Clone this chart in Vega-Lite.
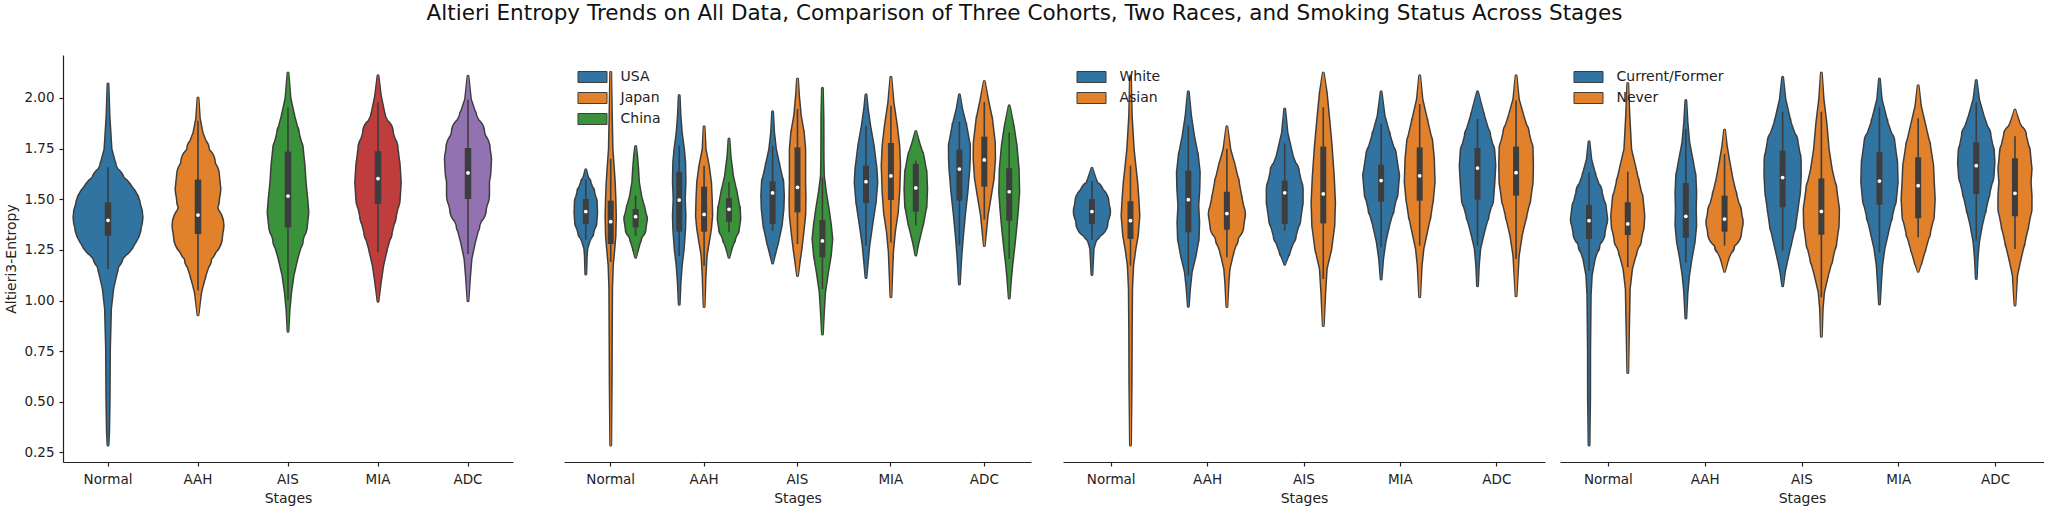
{
"$schema": "https://vega.github.io/schema/vega-lite/v6.json",
"padding": {"left": 4, "top": 2, "right": 0, "bottom": 0},
"title": {"text": "Altieri Entropy Trends on All Data, Comparison of Three Cohorts, Two Races, and Smoking Status Across Stages", "font": "DejaVu Sans", "fontSize": 21.5, "fontWeight": "normal", "color": "#111", "anchor": "middle", "offset": 31},
"config": {
  "view": {"stroke": null},
  "font": "DejaVu Sans",
  "axis": {"labelFont": "DejaVu Sans", "titleFont": "DejaVu Sans", "titleFontWeight": "normal", "labelColor": "#222", "titleColor": "#222", "domainColor": "#222", "tickColor": "#222", "grid": false, "tickSize": 4, "domainWidth": 1.2, "tickWidth": 1.2},
  "axisX": {"labelAngle": 0, "labelFontSize": 13.5, "titleFontSize": 14, "labelPadding": 6, "titlePadding": 6},
  "legend": {"orient": "none", "legendX": 21.5, "legendY": 15, "title": null, "symbolType": "M-2.64,-1H2.64V1H-2.64Z", "symbolSize": 121, "symbolStrokeColor": "#3d3d3d", "symbolStrokeWidth": 1, "symbolOpacity": 1, "labelFont": "DejaVu Sans", "labelFontSize": 14, "labelColor": "#222", "labelOffset": 21, "rowPadding": 5, "padding": 0}
},
"datasets": {
"vio": [
{"p":"A","s":"Normal","g":"All","v":2.069,"w":0},{"p":"A","s":"Normal","g":"All","v":1.913,"w":0.03},{"p":"A","s":"Normal","g":"All","v":1.748,"w":0.09},{"p":"A","s":"Normal","g":"All","v":1.666,"w":0.22},{"p":"A","s":"Normal","g":"All","v":1.584,"w":0.46},{"p":"A","s":"Normal","g":"All","v":1.501,"w":0.76},{"p":"A","s":"Normal","g":"All","v":1.452,"w":0.93},{"p":"A","s":"Normal","g":"All","v":1.411,"w":0.99},{"p":"A","s":"Normal","g":"All","v":1.378,"w":0.95},{"p":"A","s":"Normal","g":"All","v":1.337,"w":0.83},{"p":"A","s":"Normal","g":"All","v":1.287,"w":0.62},{"p":"A","s":"Normal","g":"All","v":1.221,"w":0.42},{"p":"A","s":"Normal","g":"All","v":1.156,"w":0.27},{"p":"A","s":"Normal","g":"All","v":1.057,"w":0.14},{"p":"A","s":"Normal","g":"All","v":0.958,"w":0.075},{"p":"A","s":"Normal","g":"All","v":0.76,"w":0.045},{"p":"A","s":"Normal","g":"All","v":0.514,"w":0.035},{"p":"A","s":"Normal","g":"All","v":0.349,"w":0.02},{"p":"A","s":"Normal","g":"All","v":0.286,"w":0},
{"p":"A","s":"AAH","g":"All","v":2.0,"w":0},{"p":"A","s":"AAH","g":"All","v":1.9,"w":0.04},{"p":"A","s":"AAH","g":"All","v":1.83,"w":0.12},{"p":"A","s":"AAH","g":"All","v":1.75,"w":0.3},{"p":"A","s":"AAH","g":"All","v":1.68,"w":0.48},{"p":"A","s":"AAH","g":"All","v":1.616,"w":0.6},{"p":"A","s":"AAH","g":"All","v":1.55,"w":0.64},{"p":"A","s":"AAH","g":"All","v":1.5,"w":0.6},{"p":"A","s":"AAH","g":"All","v":1.46,"w":0.54},{"p":"A","s":"AAH","g":"All","v":1.42,"w":0.6},{"p":"A","s":"AAH","g":"All","v":1.37,"w":0.73},{"p":"A","s":"AAH","g":"All","v":1.32,"w":0.69},{"p":"A","s":"AAH","g":"All","v":1.27,"w":0.53},{"p":"A","s":"AAH","g":"All","v":1.205,"w":0.37},{"p":"A","s":"AAH","g":"All","v":1.123,"w":0.21},{"p":"A","s":"AAH","g":"All","v":1.04,"w":0.08},{"p":"A","s":"AAH","g":"All","v":0.93,"w":0},
{"p":"A","s":"AIS","g":"All","v":2.123,"w":0},{"p":"A","s":"AIS","g":"All","v":2.0,"w":0.06},{"p":"A","s":"AIS","g":"All","v":1.913,"w":0.17},{"p":"A","s":"AIS","g":"All","v":1.83,"w":0.3},{"p":"A","s":"AIS","g":"All","v":1.748,"w":0.42},{"p":"A","s":"AIS","g":"All","v":1.666,"w":0.47},{"p":"A","s":"AIS","g":"All","v":1.584,"w":0.5},{"p":"A","s":"AIS","g":"All","v":1.501,"w":0.55},{"p":"A","s":"AIS","g":"All","v":1.435,"w":0.58},{"p":"A","s":"AIS","g":"All","v":1.37,"w":0.54},{"p":"A","s":"AIS","g":"All","v":1.3,"w":0.42},{"p":"A","s":"AIS","g":"All","v":1.205,"w":0.26},{"p":"A","s":"AIS","g":"All","v":1.123,"w":0.15},{"p":"A","s":"AIS","g":"All","v":1.04,"w":0.08},{"p":"A","s":"AIS","g":"All","v":0.95,"w":0.03},{"p":"A","s":"AIS","g":"All","v":0.848,"w":0},
{"p":"A","s":"MIA","g":"All","v":2.11,"w":0},{"p":"A","s":"MIA","g":"All","v":2.012,"w":0.07},{"p":"A","s":"MIA","g":"All","v":1.913,"w":0.19},{"p":"A","s":"MIA","g":"All","v":1.83,"w":0.42},{"p":"A","s":"MIA","g":"All","v":1.748,"w":0.56},{"p":"A","s":"MIA","g":"All","v":1.666,"w":0.62},{"p":"A","s":"MIA","g":"All","v":1.584,"w":0.65},{"p":"A","s":"MIA","g":"All","v":1.501,"w":0.62},{"p":"A","s":"MIA","g":"All","v":1.419,"w":0.51},{"p":"A","s":"MIA","g":"All","v":1.337,"w":0.39},{"p":"A","s":"MIA","g":"All","v":1.254,"w":0.25},{"p":"A","s":"MIA","g":"All","v":1.172,"w":0.14},{"p":"A","s":"MIA","g":"All","v":1.09,"w":0.07},{"p":"A","s":"MIA","g":"All","v":0.996,"w":0},
{"p":"A","s":"ADC","g":"All","v":2.107,"w":0},{"p":"A","s":"ADC","g":"All","v":1.995,"w":0.07},{"p":"A","s":"ADC","g":"All","v":1.913,"w":0.23},{"p":"A","s":"ADC","g":"All","v":1.83,"w":0.46},{"p":"A","s":"ADC","g":"All","v":1.748,"w":0.62},{"p":"A","s":"ADC","g":"All","v":1.699,"w":0.66},{"p":"A","s":"ADC","g":"All","v":1.633,"w":0.64},{"p":"A","s":"ADC","g":"All","v":1.584,"w":0.6},{"p":"A","s":"ADC","g":"All","v":1.518,"w":0.6},{"p":"A","s":"ADC","g":"All","v":1.452,"w":0.51},{"p":"A","s":"ADC","g":"All","v":1.37,"w":0.32},{"p":"A","s":"ADC","g":"All","v":1.287,"w":0.19},{"p":"A","s":"ADC","g":"All","v":1.205,"w":0.09},{"p":"A","s":"ADC","g":"All","v":1.123,"w":0.05},{"p":"A","s":"ADC","g":"All","v":0.999,"w":0},
{"p":"B","s":"Normal","g":"USA","v":1.646,"w":0},{"p":"B","s":"Normal","g":"USA","v":1.616,"w":0.13},{"p":"B","s":"Normal","g":"USA","v":1.584,"w":0.4},{"p":"B","s":"Normal","g":"USA","v":1.534,"w":0.74},{"p":"B","s":"Normal","g":"USA","v":1.485,"w":0.97},{"p":"B","s":"Normal","g":"USA","v":1.435,"w":1.0},{"p":"B","s":"Normal","g":"USA","v":1.386,"w":0.94},{"p":"B","s":"Normal","g":"USA","v":1.337,"w":0.67},{"p":"B","s":"Normal","g":"USA","v":1.287,"w":0.27},{"p":"B","s":"Normal","g":"USA","v":1.254,"w":0.1},{"p":"B","s":"Normal","g":"USA","v":1.221,"w":0.05},{"p":"B","s":"Normal","g":"USA","v":1.131,"w":0},
{"p":"B","s":"Normal","g":"Japan","v":2.127,"w":0},{"p":"B","s":"Normal","g":"Japan","v":1.913,"w":0.07},{"p":"B","s":"Normal","g":"Japan","v":1.748,"w":0.13},{"p":"B","s":"Normal","g":"Japan","v":1.666,"w":0.24},{"p":"B","s":"Normal","g":"Japan","v":1.584,"w":0.34},{"p":"B","s":"Normal","g":"Japan","v":1.501,"w":0.4},{"p":"B","s":"Normal","g":"Japan","v":1.419,"w":0.44},{"p":"B","s":"Normal","g":"Japan","v":1.32,"w":0.4},{"p":"B","s":"Normal","g":"Japan","v":1.254,"w":0.3},{"p":"B","s":"Normal","g":"Japan","v":1.172,"w":0.16},{"p":"B","s":"Normal","g":"Japan","v":1.057,"w":0.09},{"p":"B","s":"Normal","g":"Japan","v":0.843,"w":0.07},{"p":"B","s":"Normal","g":"Japan","v":0.596,"w":0.05},{"p":"B","s":"Normal","g":"Japan","v":0.286,"w":0},
{"p":"B","s":"Normal","g":"China","v":1.76,"w":0},{"p":"B","s":"Normal","g":"China","v":1.715,"w":0.1},{"p":"B","s":"Normal","g":"China","v":1.649,"w":0.2},{"p":"B","s":"Normal","g":"China","v":1.584,"w":0.27},{"p":"B","s":"Normal","g":"China","v":1.518,"w":0.47},{"p":"B","s":"Normal","g":"China","v":1.452,"w":0.8},{"p":"B","s":"Normal","g":"China","v":1.402,"w":1.0},{"p":"B","s":"Normal","g":"China","v":1.353,"w":0.87},{"p":"B","s":"Normal","g":"China","v":1.304,"w":0.47},{"p":"B","s":"Normal","g":"China","v":1.254,"w":0.2},{"p":"B","s":"Normal","g":"China","v":1.213,"w":0},
{"p":"B","s":"AAH","g":"USA","v":2.012,"w":0},{"p":"B","s":"AAH","g":"USA","v":1.913,"w":0.08},{"p":"B","s":"AAH","g":"USA","v":1.83,"w":0.2},{"p":"B","s":"AAH","g":"USA","v":1.748,"w":0.4},{"p":"B","s":"AAH","g":"USA","v":1.682,"w":0.51},{"p":"B","s":"AAH","g":"USA","v":1.584,"w":0.54},{"p":"B","s":"AAH","g":"USA","v":1.501,"w":0.48},{"p":"B","s":"AAH","g":"USA","v":1.419,"w":0.54},{"p":"B","s":"AAH","g":"USA","v":1.353,"w":0.51},{"p":"B","s":"AAH","g":"USA","v":1.254,"w":0.38},{"p":"B","s":"AAH","g":"USA","v":1.172,"w":0.2},{"p":"B","s":"AAH","g":"USA","v":1.09,"w":0.09},{"p":"B","s":"AAH","g":"USA","v":0.981,"w":0},
{"p":"B","s":"AAH","g":"Japan","v":1.858,"w":0},{"p":"B","s":"AAH","g":"Japan","v":1.748,"w":0.1},{"p":"B","s":"AAH","g":"Japan","v":1.666,"w":0.4},{"p":"B","s":"AAH","g":"Japan","v":1.584,"w":0.6},{"p":"B","s":"AAH","g":"Japan","v":1.501,"w":0.67},{"p":"B","s":"AAH","g":"Japan","v":1.419,"w":0.71},{"p":"B","s":"AAH","g":"Japan","v":1.353,"w":0.6},{"p":"B","s":"AAH","g":"Japan","v":1.287,"w":0.4},{"p":"B","s":"AAH","g":"Japan","v":1.221,"w":0.2},{"p":"B","s":"AAH","g":"Japan","v":1.123,"w":0.1},{"p":"B","s":"AAH","g":"Japan","v":0.97,"w":0},
{"p":"B","s":"AAH","g":"China","v":1.797,"w":0},{"p":"B","s":"AAH","g":"China","v":1.715,"w":0.1},{"p":"B","s":"AAH","g":"China","v":1.616,"w":0.33},{"p":"B","s":"AAH","g":"China","v":1.534,"w":0.67},{"p":"B","s":"AAH","g":"China","v":1.452,"w":0.96},{"p":"B","s":"AAH","g":"China","v":1.402,"w":1.0},{"p":"B","s":"AAH","g":"China","v":1.353,"w":0.87},{"p":"B","s":"AAH","g":"China","v":1.304,"w":0.53},{"p":"B","s":"AAH","g":"China","v":1.254,"w":0.2},{"p":"B","s":"AAH","g":"China","v":1.213,"w":0},
{"p":"B","s":"AIS","g":"USA","v":1.932,"w":0},{"p":"B","s":"AIS","g":"USA","v":1.83,"w":0.1},{"p":"B","s":"AIS","g":"USA","v":1.748,"w":0.27},{"p":"B","s":"AIS","g":"USA","v":1.666,"w":0.6},{"p":"B","s":"AIS","g":"USA","v":1.584,"w":0.94},{"p":"B","s":"AIS","g":"USA","v":1.518,"w":1.0},{"p":"B","s":"AIS","g":"USA","v":1.452,"w":0.96},{"p":"B","s":"AIS","g":"USA","v":1.37,"w":0.8},{"p":"B","s":"AIS","g":"USA","v":1.287,"w":0.47},{"p":"B","s":"AIS","g":"USA","v":1.23,"w":0.2},{"p":"B","s":"AIS","g":"USA","v":1.185,"w":0},
{"p":"B","s":"AIS","g":"Japan","v":2.094,"w":0},{"p":"B","s":"AIS","g":"Japan","v":2.012,"w":0.1},{"p":"B","s":"AIS","g":"Japan","v":1.913,"w":0.27},{"p":"B","s":"AIS","g":"Japan","v":1.83,"w":0.54},{"p":"B","s":"AIS","g":"Japan","v":1.748,"w":0.67},{"p":"B","s":"AIS","g":"Japan","v":1.666,"w":0.67},{"p":"B","s":"AIS","g":"Japan","v":1.584,"w":0.67},{"p":"B","s":"AIS","g":"Japan","v":1.501,"w":0.7},{"p":"B","s":"AIS","g":"Japan","v":1.419,"w":0.67},{"p":"B","s":"AIS","g":"Japan","v":1.337,"w":0.51},{"p":"B","s":"AIS","g":"Japan","v":1.254,"w":0.33},{"p":"B","s":"AIS","g":"Japan","v":1.189,"w":0.16},{"p":"B","s":"AIS","g":"Japan","v":1.123,"w":0},
{"p":"B","s":"AIS","g":"China","v":2.048,"w":0},{"p":"B","s":"AIS","g":"China","v":1.9,"w":0.06},{"p":"B","s":"AIS","g":"China","v":1.7,"w":0.07},{"p":"B","s":"AIS","g":"China","v":1.616,"w":0.1},{"p":"B","s":"AIS","g":"China","v":1.534,"w":0.29},{"p":"B","s":"AIS","g":"China","v":1.452,"w":0.54},{"p":"B","s":"AIS","g":"China","v":1.37,"w":0.75},{"p":"B","s":"AIS","g":"China","v":1.304,"w":0.87},{"p":"B","s":"AIS","g":"China","v":1.22,"w":0.73},{"p":"B","s":"AIS","g":"China","v":1.14,"w":0.48},{"p":"B","s":"AIS","g":"China","v":1.04,"w":0.21},{"p":"B","s":"AIS","g":"China","v":0.94,"w":0.1},{"p":"B","s":"AIS","g":"China","v":0.835,"w":0},
{"p":"B","s":"MIA","g":"USA","v":2.016,"w":0},{"p":"B","s":"MIA","g":"USA","v":1.95,"w":0.12},{"p":"B","s":"MIA","g":"USA","v":1.863,"w":0.35},{"p":"B","s":"MIA","g":"USA","v":1.765,"w":0.67},{"p":"B","s":"MIA","g":"USA","v":1.65,"w":0.93},{"p":"B","s":"MIA","g":"USA","v":1.584,"w":1.0},{"p":"B","s":"MIA","g":"USA","v":1.485,"w":0.85},{"p":"B","s":"MIA","g":"USA","v":1.37,"w":0.53},{"p":"B","s":"MIA","g":"USA","v":1.27,"w":0.27},{"p":"B","s":"MIA","g":"USA","v":1.19,"w":0.13},{"p":"B","s":"MIA","g":"USA","v":1.114,"w":0},
{"p":"B","s":"MIA","g":"Japan","v":2.102,"w":0},{"p":"B","s":"MIA","g":"Japan","v":1.98,"w":0.2},{"p":"B","s":"MIA","g":"Japan","v":1.863,"w":0.52},{"p":"B","s":"MIA","g":"Japan","v":1.765,"w":0.73},{"p":"B","s":"MIA","g":"Japan","v":1.666,"w":0.81},{"p":"B","s":"MIA","g":"Japan","v":1.534,"w":0.73},{"p":"B","s":"MIA","g":"Japan","v":1.435,"w":0.6},{"p":"B","s":"MIA","g":"Japan","v":1.337,"w":0.33},{"p":"B","s":"MIA","g":"Japan","v":1.238,"w":0.16},{"p":"B","s":"MIA","g":"Japan","v":1.13,"w":0.08},{"p":"B","s":"MIA","g":"Japan","v":1.019,"w":0},
{"p":"B","s":"MIA","g":"China","v":1.834,"w":0},{"p":"B","s":"MIA","g":"China","v":1.781,"w":0.27},{"p":"B","s":"MIA","g":"China","v":1.715,"w":0.67},{"p":"B","s":"MIA","g":"China","v":1.633,"w":0.94},{"p":"B","s":"MIA","g":"China","v":1.551,"w":1.0},{"p":"B","s":"MIA","g":"China","v":1.468,"w":0.94},{"p":"B","s":"MIA","g":"China","v":1.386,"w":0.67},{"p":"B","s":"MIA","g":"China","v":1.32,"w":0.37},{"p":"B","s":"MIA","g":"China","v":1.271,"w":0.16},{"p":"B","s":"MIA","g":"China","v":1.225,"w":0},
{"p":"B","s":"ADC","g":"USA","v":2.016,"w":0},{"p":"B","s":"ADC","g":"USA","v":1.95,"w":0.2},{"p":"B","s":"ADC","g":"USA","v":1.863,"w":0.6},{"p":"B","s":"ADC","g":"USA","v":1.765,"w":0.93},{"p":"B","s":"ADC","g":"USA","v":1.7,"w":0.92},{"p":"B","s":"ADC","g":"USA","v":1.65,"w":0.88},{"p":"B","s":"ADC","g":"USA","v":1.534,"w":0.7},{"p":"B","s":"ADC","g":"USA","v":1.42,"w":0.47},{"p":"B","s":"ADC","g":"USA","v":1.304,"w":0.27},{"p":"B","s":"ADC","g":"USA","v":1.205,"w":0.13},{"p":"B","s":"ADC","g":"USA","v":1.081,"w":0},
{"p":"B","s":"ADC","g":"Japan","v":2.082,"w":0},{"p":"B","s":"ADC","g":"Japan","v":1.995,"w":0.3},{"p":"B","s":"ADC","g":"Japan","v":1.896,"w":0.68},{"p":"B","s":"ADC","g":"Japan","v":1.78,"w":0.93},{"p":"B","s":"ADC","g":"Japan","v":1.7,"w":0.95},{"p":"B","s":"ADC","g":"Japan","v":1.6,"w":0.82},{"p":"B","s":"ADC","g":"Japan","v":1.5,"w":0.52},{"p":"B","s":"ADC","g":"Japan","v":1.42,"w":0.27},{"p":"B","s":"ADC","g":"Japan","v":1.337,"w":0.12},{"p":"B","s":"ADC","g":"Japan","v":1.271,"w":0},
{"p":"B","s":"ADC","g":"China","v":1.962,"w":0},{"p":"B","s":"ADC","g":"China","v":1.863,"w":0.37},{"p":"B","s":"ADC","g":"China","v":1.765,"w":0.64},{"p":"B","s":"ADC","g":"China","v":1.65,"w":0.83},{"p":"B","s":"ADC","g":"China","v":1.534,"w":0.88},{"p":"B","s":"ADC","g":"China","v":1.45,"w":0.77},{"p":"B","s":"ADC","g":"China","v":1.37,"w":0.64},{"p":"B","s":"ADC","g":"China","v":1.27,"w":0.45},{"p":"B","s":"ADC","g":"China","v":1.17,"w":0.24},{"p":"B","s":"ADC","g":"China","v":1.106,"w":0.13},{"p":"B","s":"ADC","g":"China","v":1.012,"w":0},
{"p":"C","s":"Normal","g":"White","v":1.653,"w":0},{"p":"C","s":"Normal","g":"White","v":1.584,"w":0.26},{"p":"C","s":"Normal","g":"White","v":1.534,"w":0.6},{"p":"C","s":"Normal","g":"White","v":1.485,"w":0.91},{"p":"C","s":"Normal","g":"White","v":1.439,"w":1.0},{"p":"C","s":"Normal","g":"White","v":1.386,"w":0.86},{"p":"C","s":"Normal","g":"White","v":1.337,"w":0.48},{"p":"C","s":"Normal","g":"White","v":1.287,"w":0.17},{"p":"C","s":"Normal","g":"White","v":1.254,"w":0.07},{"p":"C","s":"Normal","g":"White","v":1.2,"w":0.04},{"p":"C","s":"Normal","g":"White","v":1.128,"w":0},
{"p":"C","s":"Normal","g":"Asian","v":2.107,"w":0},{"p":"C","s":"Normal","g":"Asian","v":1.913,"w":0.05},{"p":"C","s":"Normal","g":"Asian","v":1.748,"w":0.16},{"p":"C","s":"Normal","g":"Asian","v":1.666,"w":0.26},{"p":"C","s":"Normal","g":"Asian","v":1.584,"w":0.36},{"p":"C","s":"Normal","g":"Asian","v":1.501,"w":0.43},{"p":"C","s":"Normal","g":"Asian","v":1.419,"w":0.48},{"p":"C","s":"Normal","g":"Asian","v":1.32,"w":0.39},{"p":"C","s":"Normal","g":"Asian","v":1.254,"w":0.26},{"p":"C","s":"Normal","g":"Asian","v":1.172,"w":0.13},{"p":"C","s":"Normal","g":"Asian","v":1.057,"w":0.07},{"p":"C","s":"Normal","g":"Asian","v":0.843,"w":0.05},{"p":"C","s":"Normal","g":"Asian","v":0.596,"w":0.04},{"p":"C","s":"Normal","g":"Asian","v":0.286,"w":0},
{"p":"C","s":"AAH","g":"White","v":2.031,"w":0},{"p":"C","s":"AAH","g":"White","v":1.913,"w":0.13},{"p":"C","s":"AAH","g":"White","v":1.814,"w":0.3},{"p":"C","s":"AAH","g":"White","v":1.715,"w":0.52},{"p":"C","s":"AAH","g":"White","v":1.633,"w":0.62},{"p":"C","s":"AAH","g":"White","v":1.551,"w":0.6},{"p":"C","s":"AAH","g":"White","v":1.468,"w":0.54},{"p":"C","s":"AAH","g":"White","v":1.386,"w":0.59},{"p":"C","s":"AAH","g":"White","v":1.304,"w":0.56},{"p":"C","s":"AAH","g":"White","v":1.221,"w":0.39},{"p":"C","s":"AAH","g":"White","v":1.139,"w":0.17},{"p":"C","s":"AAH","g":"White","v":1.057,"w":0.07},{"p":"C","s":"AAH","g":"White","v":0.971,"w":0},
{"p":"C","s":"AAH","g":"Asian","v":1.858,"w":0},{"p":"C","s":"AAH","g":"Asian","v":1.748,"w":0.17},{"p":"C","s":"AAH","g":"Asian","v":1.666,"w":0.43},{"p":"C","s":"AAH","g":"Asian","v":1.584,"w":0.65},{"p":"C","s":"AAH","g":"Asian","v":1.501,"w":0.82},{"p":"C","s":"AAH","g":"Asian","v":1.427,"w":1.0},{"p":"C","s":"AAH","g":"Asian","v":1.37,"w":0.91},{"p":"C","s":"AAH","g":"Asian","v":1.304,"w":0.6},{"p":"C","s":"AAH","g":"Asian","v":1.238,"w":0.35},{"p":"C","s":"AAH","g":"Asian","v":1.156,"w":0.13},{"p":"C","s":"AAH","g":"Asian","v":1.09,"w":0.07},{"p":"C","s":"AAH","g":"Asian","v":0.97,"w":0},
{"p":"C","s":"AIS","g":"White","v":1.946,"w":0},{"p":"C","s":"AIS","g":"White","v":1.83,"w":0.13},{"p":"C","s":"AIS","g":"White","v":1.715,"w":0.43},{"p":"C","s":"AIS","g":"White","v":1.633,"w":0.78},{"p":"C","s":"AIS","g":"White","v":1.551,"w":0.99},{"p":"C","s":"AIS","g":"White","v":1.485,"w":0.99},{"p":"C","s":"AIS","g":"White","v":1.402,"w":0.86},{"p":"C","s":"AIS","g":"White","v":1.32,"w":0.6},{"p":"C","s":"AIS","g":"White","v":1.238,"w":0.26},{"p":"C","s":"AIS","g":"White","v":1.179,"w":0},
{"p":"C","s":"AIS","g":"Asian","v":2.123,"w":0},{"p":"C","s":"AIS","g":"Asian","v":2.028,"w":0.17},{"p":"C","s":"AIS","g":"Asian","v":1.863,"w":0.35},{"p":"C","s":"AIS","g":"Asian","v":1.765,"w":0.45},{"p":"C","s":"AIS","g":"Asian","v":1.616,"w":0.57},{"p":"C","s":"AIS","g":"Asian","v":1.485,"w":0.64},{"p":"C","s":"AIS","g":"Asian","v":1.37,"w":0.6},{"p":"C","s":"AIS","g":"Asian","v":1.254,"w":0.43},{"p":"C","s":"AIS","g":"Asian","v":1.156,"w":0.17},{"p":"C","s":"AIS","g":"Asian","v":1.04,"w":0.09},{"p":"C","s":"AIS","g":"Asian","v":0.876,"w":0},
{"p":"C","s":"MIA","g":"White","v":2.031,"w":0},{"p":"C","s":"MIA","g":"White","v":1.913,"w":0.17},{"p":"C","s":"MIA","g":"White","v":1.814,"w":0.48},{"p":"C","s":"MIA","g":"White","v":1.715,"w":0.82},{"p":"C","s":"MIA","g":"White","v":1.616,"w":0.99},{"p":"C","s":"MIA","g":"White","v":1.534,"w":0.91},{"p":"C","s":"MIA","g":"White","v":1.452,"w":0.69},{"p":"C","s":"MIA","g":"White","v":1.37,"w":0.43},{"p":"C","s":"MIA","g":"White","v":1.287,"w":0.22},{"p":"C","s":"MIA","g":"White","v":1.205,"w":0.09},{"p":"C","s":"MIA","g":"White","v":1.106,"w":0},
{"p":"C","s":"MIA","g":"Asian","v":2.11,"w":0},{"p":"C","s":"MIA","g":"Asian","v":1.995,"w":0.13},{"p":"C","s":"MIA","g":"Asian","v":1.88,"w":0.43},{"p":"C","s":"MIA","g":"Asian","v":1.781,"w":0.69},{"p":"C","s":"MIA","g":"Asian","v":1.699,"w":0.78},{"p":"C","s":"MIA","g":"Asian","v":1.584,"w":0.82},{"p":"C","s":"MIA","g":"Asian","v":1.501,"w":0.73},{"p":"C","s":"MIA","g":"Asian","v":1.419,"w":0.59},{"p":"C","s":"MIA","g":"Asian","v":1.337,"w":0.39},{"p":"C","s":"MIA","g":"Asian","v":1.254,"w":0.19},{"p":"C","s":"MIA","g":"Asian","v":1.172,"w":0.09},{"p":"C","s":"MIA","g":"Asian","v":1.019,"w":0},
{"p":"C","s":"ADC","g":"White","v":2.031,"w":0},{"p":"C","s":"ADC","g":"White","v":1.913,"w":0.35},{"p":"C","s":"ADC","g":"White","v":1.814,"w":0.69},{"p":"C","s":"ADC","g":"White","v":1.732,"w":0.93},{"p":"C","s":"ADC","g":"White","v":1.666,"w":0.98},{"p":"C","s":"ADC","g":"White","v":1.584,"w":0.93},{"p":"C","s":"ADC","g":"White","v":1.501,"w":0.86},{"p":"C","s":"ADC","g":"White","v":1.419,"w":0.6},{"p":"C","s":"ADC","g":"White","v":1.337,"w":0.35},{"p":"C","s":"ADC","g":"White","v":1.254,"w":0.13},{"p":"C","s":"ADC","g":"White","v":1.172,"w":0.05},{"p":"C","s":"ADC","g":"White","v":1.073,"w":0},
{"p":"C","s":"ADC","g":"Asian","v":2.11,"w":0},{"p":"C","s":"ADC","g":"Asian","v":1.995,"w":0.13},{"p":"C","s":"ADC","g":"Asian","v":1.913,"w":0.39},{"p":"C","s":"ADC","g":"Asian","v":1.83,"w":0.69},{"p":"C","s":"ADC","g":"Asian","v":1.748,"w":0.91},{"p":"C","s":"ADC","g":"Asian","v":1.666,"w":0.93},{"p":"C","s":"ADC","g":"Asian","v":1.584,"w":0.91},{"p":"C","s":"ADC","g":"Asian","v":1.501,"w":0.78},{"p":"C","s":"ADC","g":"Asian","v":1.419,"w":0.56},{"p":"C","s":"ADC","g":"Asian","v":1.32,"w":0.3},{"p":"C","s":"ADC","g":"Asian","v":1.221,"w":0.13},{"p":"C","s":"ADC","g":"Asian","v":1.024,"w":0},
{"p":"D","s":"Normal","g":"Current/Former","v":1.784,"w":0},{"p":"D","s":"Normal","g":"Current/Former","v":1.699,"w":0.1},{"p":"D","s":"Normal","g":"Current/Former","v":1.616,"w":0.35},{"p":"D","s":"Normal","g":"Current/Former","v":1.534,"w":0.69},{"p":"D","s":"Normal","g":"Current/Former","v":1.452,"w":0.93},{"p":"D","s":"Normal","g":"Current/Former","v":1.402,"w":1.0},{"p":"D","s":"Normal","g":"Current/Former","v":1.337,"w":0.86},{"p":"D","s":"Normal","g":"Current/Former","v":1.271,"w":0.56},{"p":"D","s":"Normal","g":"Current/Former","v":1.205,"w":0.3},{"p":"D","s":"Normal","g":"Current/Former","v":1.123,"w":0.13},{"p":"D","s":"Normal","g":"Current/Former","v":1.024,"w":0.07},{"p":"D","s":"Normal","g":"Current/Former","v":0.76,"w":0.04},{"p":"D","s":"Normal","g":"Current/Former","v":0.514,"w":0.035},{"p":"D","s":"Normal","g":"Current/Former","v":0.286,"w":0},
{"p":"D","s":"Normal","g":"Never","v":2.072,"w":0},{"p":"D","s":"Normal","g":"Never","v":1.913,"w":0.07},{"p":"D","s":"Normal","g":"Never","v":1.748,"w":0.17},{"p":"D","s":"Normal","g":"Never","v":1.666,"w":0.39},{"p":"D","s":"Normal","g":"Never","v":1.584,"w":0.6},{"p":"D","s":"Normal","g":"Never","v":1.501,"w":0.82},{"p":"D","s":"Normal","g":"Never","v":1.419,"w":0.91},{"p":"D","s":"Normal","g":"Never","v":1.37,"w":0.88},{"p":"D","s":"Normal","g":"Never","v":1.304,"w":0.73},{"p":"D","s":"Normal","g":"Never","v":1.238,"w":0.47},{"p":"D","s":"Normal","g":"Never","v":1.156,"w":0.22},{"p":"D","s":"Normal","g":"Never","v":1.057,"w":0.09},{"p":"D","s":"Normal","g":"Never","v":0.876,"w":0.05},{"p":"D","s":"Normal","g":"Never","v":0.645,"w":0},
{"p":"D","s":"AAH","g":"Current/Former","v":1.987,"w":0},{"p":"D","s":"AAH","g":"Current/Former","v":1.88,"w":0.07},{"p":"D","s":"AAH","g":"Current/Former","v":1.781,"w":0.17},{"p":"D","s":"AAH","g":"Current/Former","v":1.699,"w":0.35},{"p":"D","s":"AAH","g":"Current/Former","v":1.616,"w":0.52},{"p":"D","s":"AAH","g":"Current/Former","v":1.534,"w":0.56},{"p":"D","s":"AAH","g":"Current/Former","v":1.452,"w":0.54},{"p":"D","s":"AAH","g":"Current/Former","v":1.37,"w":0.56},{"p":"D","s":"AAH","g":"Current/Former","v":1.287,"w":0.47},{"p":"D","s":"AAH","g":"Current/Former","v":1.205,"w":0.3},{"p":"D","s":"AAH","g":"Current/Former","v":1.123,"w":0.16},{"p":"D","s":"AAH","g":"Current/Former","v":1.04,"w":0.07},{"p":"D","s":"AAH","g":"Current/Former","v":0.914,"w":0},
{"p":"D","s":"AAH","g":"Never","v":1.842,"w":0},{"p":"D","s":"AAH","g":"Never","v":1.765,"w":0.1},{"p":"D","s":"AAH","g":"Never","v":1.682,"w":0.26},{"p":"D","s":"AAH","g":"Never","v":1.6,"w":0.43},{"p":"D","s":"AAH","g":"Never","v":1.518,"w":0.65},{"p":"D","s":"AAH","g":"Never","v":1.435,"w":0.91},{"p":"D","s":"AAH","g":"Never","v":1.386,"w":1.0},{"p":"D","s":"AAH","g":"Never","v":1.337,"w":0.91},{"p":"D","s":"AAH","g":"Never","v":1.271,"w":0.52},{"p":"D","s":"AAH","g":"Never","v":1.205,"w":0.19},{"p":"D","s":"AAH","g":"Never","v":1.144,"w":0},
{"p":"D","s":"AIS","g":"Current/Former","v":2.102,"w":0},{"p":"D","s":"AIS","g":"Current/Former","v":1.995,"w":0.13},{"p":"D","s":"AIS","g":"Current/Former","v":1.88,"w":0.43},{"p":"D","s":"AIS","g":"Current/Former","v":1.781,"w":0.82},{"p":"D","s":"AIS","g":"Current/Former","v":1.699,"w":0.99},{"p":"D","s":"AIS","g":"Current/Former","v":1.616,"w":1.0},{"p":"D","s":"AIS","g":"Current/Former","v":1.534,"w":0.95},{"p":"D","s":"AIS","g":"Current/Former","v":1.452,"w":0.82},{"p":"D","s":"AIS","g":"Current/Former","v":1.37,"w":0.69},{"p":"D","s":"AIS","g":"Current/Former","v":1.287,"w":0.47},{"p":"D","s":"AIS","g":"Current/Former","v":1.205,"w":0.26},{"p":"D","s":"AIS","g":"Current/Former","v":1.139,"w":0.1},{"p":"D","s":"AIS","g":"Current/Former","v":1.073,"w":0},
{"p":"D","s":"AIS","g":"Never","v":2.123,"w":0},{"p":"D","s":"AIS","g":"Never","v":1.995,"w":0.1},{"p":"D","s":"AIS","g":"Never","v":1.88,"w":0.26},{"p":"D","s":"AIS","g":"Never","v":1.748,"w":0.39},{"p":"D","s":"AIS","g":"Never","v":1.649,"w":0.56},{"p":"D","s":"AIS","g":"Never","v":1.551,"w":0.82},{"p":"D","s":"AIS","g":"Never","v":1.452,"w":0.97},{"p":"D","s":"AIS","g":"Never","v":1.37,"w":0.95},{"p":"D","s":"AIS","g":"Never","v":1.287,"w":0.82},{"p":"D","s":"AIS","g":"Never","v":1.205,"w":0.6},{"p":"D","s":"AIS","g":"Never","v":1.123,"w":0.35},{"p":"D","s":"AIS","g":"Never","v":1.04,"w":0.13},{"p":"D","s":"AIS","g":"Never","v":0.958,"w":0.05},{"p":"D","s":"AIS","g":"Never","v":0.823,"w":0},
{"p":"D","s":"MIA","g":"Current/Former","v":2.094,"w":0},{"p":"D","s":"MIA","g":"Current/Former","v":1.995,"w":0.1},{"p":"D","s":"MIA","g":"Current/Former","v":1.88,"w":0.43},{"p":"D","s":"MIA","g":"Current/Former","v":1.781,"w":0.82},{"p":"D","s":"MIA","g":"Current/Former","v":1.682,"w":0.97},{"p":"D","s":"MIA","g":"Current/Former","v":1.584,"w":1.0},{"p":"D","s":"MIA","g":"Current/Former","v":1.501,"w":0.91},{"p":"D","s":"MIA","g":"Current/Former","v":1.419,"w":0.69},{"p":"D","s":"MIA","g":"Current/Former","v":1.337,"w":0.47},{"p":"D","s":"MIA","g":"Current/Former","v":1.254,"w":0.26},{"p":"D","s":"MIA","g":"Current/Former","v":1.172,"w":0.13},{"p":"D","s":"MIA","g":"Current/Former","v":1.09,"w":0.07},{"p":"D","s":"MIA","g":"Current/Former","v":0.983,"w":0},
{"p":"D","s":"MIA","g":"Never","v":2.061,"w":0},{"p":"D","s":"MIA","g":"Never","v":1.962,"w":0.13},{"p":"D","s":"MIA","g":"Never","v":1.863,"w":0.39},{"p":"D","s":"MIA","g":"Never","v":1.765,"w":0.65},{"p":"D","s":"MIA","g":"Never","v":1.666,"w":0.82},{"p":"D","s":"MIA","g":"Never","v":1.584,"w":0.86},{"p":"D","s":"MIA","g":"Never","v":1.501,"w":0.91},{"p":"D","s":"MIA","g":"Never","v":1.419,"w":0.86},{"p":"D","s":"MIA","g":"Never","v":1.337,"w":0.65},{"p":"D","s":"MIA","g":"Never","v":1.254,"w":0.39},{"p":"D","s":"MIA","g":"Never","v":1.188,"w":0.17},{"p":"D","s":"MIA","g":"Never","v":1.144,"w":0},
{"p":"D","s":"ADC","g":"Current/Former","v":2.086,"w":0},{"p":"D","s":"ADC","g":"Current/Former","v":1.995,"w":0.13},{"p":"D","s":"ADC","g":"Current/Former","v":1.913,"w":0.39},{"p":"D","s":"ADC","g":"Current/Former","v":1.814,"w":0.78},{"p":"D","s":"ADC","g":"Current/Former","v":1.732,"w":0.97},{"p":"D","s":"ADC","g":"Current/Former","v":1.682,"w":1.0},{"p":"D","s":"ADC","g":"Current/Former","v":1.616,"w":0.95},{"p":"D","s":"ADC","g":"Current/Former","v":1.534,"w":0.73},{"p":"D","s":"ADC","g":"Current/Former","v":1.452,"w":0.52},{"p":"D","s":"ADC","g":"Current/Former","v":1.37,"w":0.3},{"p":"D","s":"ADC","g":"Current/Former","v":1.287,"w":0.13},{"p":"D","s":"ADC","g":"Current/Former","v":1.205,"w":0.05},{"p":"D","s":"ADC","g":"Current/Former","v":1.109,"w":0},
{"p":"D","s":"ADC","g":"Never","v":1.941,"w":0},{"p":"D","s":"ADC","g":"Never","v":1.88,"w":0.22},{"p":"D","s":"ADC","g":"Never","v":1.814,"w":0.6},{"p":"D","s":"ADC","g":"Never","v":1.732,"w":0.82},{"p":"D","s":"ADC","g":"Never","v":1.649,"w":0.91},{"p":"D","s":"ADC","g":"Never","v":1.584,"w":0.86},{"p":"D","s":"ADC","g":"Never","v":1.518,"w":0.91},{"p":"D","s":"ADC","g":"Never","v":1.452,"w":0.91},{"p":"D","s":"ADC","g":"Never","v":1.37,"w":0.73},{"p":"D","s":"ADC","g":"Never","v":1.287,"w":0.52},{"p":"D","s":"ADC","g":"Never","v":1.205,"w":0.3},{"p":"D","s":"ADC","g":"Never","v":1.123,"w":0.1},{"p":"D","s":"ADC","g":"Never","v":0.978,"w":0}
],
"box": [
{"p":"A","s":"Normal","g":"All","lo":1.156,"q1":1.32,"med":1.396,"q3":1.485,"hi":1.658},
{"p":"A","s":"AAH","g":"All","lo":1.049,"q1":1.328,"med":1.422,"q3":1.597,"hi":1.888},
{"p":"A","s":"AIS","g":"All","lo":1.0,"q1":1.361,"med":1.516,"q3":1.735,"hi":1.954},
{"p":"A","s":"MIA","g":"All","lo":1.238,"q1":1.477,"med":1.602,"q3":1.737,"hi":1.979},
{"p":"A","s":"ADC","g":"All","lo":1.23,"q1":1.501,"med":1.63,"q3":1.753,"hi":1.992},
{"p":"B","s":"Normal","g":"USA","lo":1.3,"q1":1.378,"med":1.439,"q3":1.501,"hi":1.6},
{"p":"B","s":"Normal","g":"Japan","lo":1.19,"q1":1.279,"med":1.389,"q3":1.493,"hi":1.7},
{"p":"B","s":"Normal","g":"China","lo":1.32,"q1":1.361,"med":1.414,"q3":1.452,"hi":1.518},
{"p":"B","s":"AAH","g":"USA","lo":1.22,"q1":1.34,"med":1.496,"q3":1.636,"hi":1.765},
{"p":"B","s":"AAH","g":"Japan","lo":1.172,"q1":1.34,"med":1.425,"q3":1.562,"hi":1.666},
{"p":"B","s":"AAH","g":"China","lo":1.337,"q1":1.389,"med":1.45,"q3":1.506,"hi":1.584},
{"p":"B","s":"AIS","g":"USA","lo":1.345,"q1":1.378,"med":1.531,"q3":1.588,"hi":1.765},
{"p":"B","s":"AIS","g":"Japan","lo":1.279,"q1":1.435,"med":1.559,"q3":1.756,"hi":1.946},
{"p":"B","s":"AIS","g":"China","lo":1.057,"q1":1.213,"med":1.294,"q3":1.397,"hi":1.608},
{"p":"B","s":"MIA","g":"USA","lo":1.27,"q1":1.481,"med":1.587,"q3":1.666,"hi":1.863},
{"p":"B","s":"MIA","g":"Japan","lo":1.287,"q1":1.496,"med":1.615,"q3":1.778,"hi":1.962},
{"p":"B","s":"MIA","g":"China","lo":1.37,"q1":1.439,"med":1.556,"q3":1.674,"hi":1.69},
{"p":"B","s":"ADC","g":"USA","lo":1.271,"q1":1.493,"med":1.649,"q3":1.745,"hi":1.883},
{"p":"B","s":"ADC","g":"Japan","lo":1.4,"q1":1.562,"med":1.694,"q3":1.809,"hi":1.98},
{"p":"B","s":"ADC","g":"China","lo":1.205,"q1":1.394,"med":1.537,"q3":1.653,"hi":1.83},
{"p":"C","s":"Normal","g":"White","lo":1.3,"q1":1.378,"med":1.439,"q3":1.501,"hi":1.59},
{"p":"C","s":"Normal","g":"Asian","lo":1.172,"q1":1.304,"med":1.394,"q3":1.49,"hi":1.666},
{"p":"C","s":"AAH","g":"White","lo":1.123,"q1":1.337,"med":1.498,"q3":1.641,"hi":1.863},
{"p":"C","s":"AAH","g":"Asian","lo":1.213,"q1":1.35,"med":1.429,"q3":1.537,"hi":1.748},
{"p":"C","s":"AIS","g":"White","lo":1.345,"q1":1.378,"med":1.532,"q3":1.592,"hi":1.776},
{"p":"C","s":"AIS","g":"Asian","lo":1.106,"q1":1.381,"med":1.526,"q3":1.76,"hi":1.954},
{"p":"C","s":"MIA","g":"White","lo":1.263,"q1":1.488,"med":1.592,"q3":1.671,"hi":1.871},
{"p":"C","s":"MIA","g":"Asian","lo":1.271,"q1":1.493,"med":1.616,"q3":1.756,"hi":1.97},
{"p":"C","s":"ADC","g":"White","lo":1.271,"q1":1.498,"med":1.654,"q3":1.753,"hi":1.896},
{"p":"C","s":"ADC","g":"Asian","lo":1.205,"q1":1.518,"med":1.631,"q3":1.76,"hi":1.987},
{"p":"D","s":"Normal","g":"Current/Former","lo":1.147,"q1":1.304,"med":1.394,"q3":1.472,"hi":1.633},
{"p":"D","s":"Normal","g":"Never","lo":1.164,"q1":1.323,"med":1.378,"q3":1.485,"hi":1.636},
{"p":"D","s":"AAH","g":"Current/Former","lo":1.188,"q1":1.309,"med":1.416,"q3":1.58,"hi":1.847},
{"p":"D","s":"AAH","g":"Never","lo":1.271,"q1":1.34,"med":1.402,"q3":1.518,"hi":1.723},
{"p":"D","s":"AIS","g":"Current/Former","lo":1.246,"q1":1.46,"med":1.607,"q3":1.74,"hi":1.932},
{"p":"D","s":"AIS","g":"Never","lo":1.016,"q1":1.325,"med":1.44,"q3":1.603,"hi":1.932},
{"p":"D","s":"MIA","g":"Current/Former","lo":1.238,"q1":1.473,"med":1.59,"q3":1.732,"hi":1.954},
{"p":"D","s":"MIA","g":"Never","lo":1.312,"q1":1.406,"med":1.567,"q3":1.707,"hi":1.9},
{"p":"D","s":"ADC","g":"Current/Former","lo":1.295,"q1":1.526,"med":1.666,"q3":1.781,"hi":1.979},
{"p":"D","s":"ADC","g":"Never","lo":1.254,"q1":1.416,"med":1.529,"q3":1.702,"hi":1.811}
]
},
"hconcat": [
{
 "width": 450, "height": 407,
 "encoding": {"x": {"field": "s", "type": "nominal", "scale": {"type": "band", "domain": ["Normal","AAH","AIS","MIA","ADC"], "paddingInner": 0.2, "paddingOuter": 0.1}, "title": "Stages"}},
 "layer": [
  {"data": {"name": "vio"}, "transform": [{"filter": "datum.p === 'A'"}],
   "mark": {"type": "trail", "color": "#3d3d3d"},
   "encoding": {"y": {"field": "v", "type": "quantitative", "scale": {"domain": [0.2025, 2.2123], "nice": false, "zero": false}, "axis": {"title": "Altieri3-Entropy", "values": [0.25,0.5,0.75,1.0,1.25,1.5,1.75,2.0], "format": ".2f", "labelFontSize": 13.5, "titleFontSize": 14, "labelPadding": 5, "titlePadding": 5}},
    "detail": {"field": "s"}, "order": {"field": "v", "type": "quantitative"},
    "size": {"field": "w", "type": "quantitative", "scale": {"domain": [0, 1], "range": [3, 72]}, "legend": null}}},
  {"data": {"name": "vio"}, "transform": [{"filter": "datum.p === 'A'"}],
   "mark": {"type": "trail", "opacity": 1},
   "encoding": {"y": {"field": "v", "type": "quantitative", "scale": {"domain": [0.2025, 2.2123], "nice": false, "zero": false}, "axis": {"title": "Altieri3-Entropy", "values": [0.25,0.5,0.75,1.0,1.25,1.5,1.75,2.0], "format": ".2f", "labelFontSize": 13.5, "titleFontSize": 14, "labelPadding": 5, "titlePadding": 5}},
    "fill": {"field": "s", "type": "nominal", "scale": {"domain": ["Normal","AAH","AIS","MIA","ADC"], "range": ["#3274a1","#e1812c","#3a923a","#c03d3e","#9372b2"]}, "legend": null},
    "detail": {"field": "s"}, "order": {"field": "v", "type": "quantitative"},
    "size": {"field": "w", "type": "quantitative", "scale": {"domain": [0, 1], "range": [0, 69]}, "legend": null}}},
  {"data": {"name": "box"}, "transform": [{"filter": "datum.p === 'A'"}],
   "mark": {"type": "rule", "color": "#3d3d3d", "strokeWidth": 1.6},
   "encoding": {"y": {"field": "lo", "type": "quantitative", "axis": {"title": "Altieri3-Entropy", "values": [0.25,0.5,0.75,1.0,1.25,1.5,1.75,2.0], "format": ".2f", "labelFontSize": 13.5, "titleFontSize": 14, "labelPadding": 5, "titlePadding": 5}}, "y2": {"field": "hi"}}},
  {"data": {"name": "box"}, "transform": [{"filter": "datum.p === 'A'"}],
   "mark": {"type": "rule", "color": "#3d3d3d", "strokeWidth": 6.5, "strokeCap": "butt"},
   "encoding": {"y": {"field": "q1", "type": "quantitative", "axis": {"title": "Altieri3-Entropy", "values": [0.25,0.5,0.75,1.0,1.25,1.5,1.75,2.0], "format": ".2f", "labelFontSize": 13.5, "titleFontSize": 14, "labelPadding": 5, "titlePadding": 5}}, "y2": {"field": "q3"}}},
  {"data": {"name": "box"}, "transform": [{"filter": "datum.p === 'A'"}],
   "mark": {"type": "point", "filled": true, "color": "white", "opacity": 1, "size": 14, "strokeWidth": 0},
   "encoding": {"y": {"field": "med", "type": "quantitative", "axis": {"title": "Altieri3-Entropy", "values": [0.25,0.5,0.75,1.0,1.25,1.5,1.75,2.0], "format": ".2f", "labelFontSize": 13.5, "titleFontSize": 14, "labelPadding": 5, "titlePadding": 5}}}}
 ],
 "resolve": {"scale": {"size": "independent"}}
},
{
 "hconcat": [
 {
  "width": 467, "height": 407,
  "layer": [
   {"encoding": {"x": {"field": "s", "type": "nominal", "bandPosition": 0.16667, "scale": {"type": "band", "domain": ["Normal","AAH","AIS","MIA","ADC"], "paddingInner": 0.2, "paddingOuter": 0.1}, "title": "Stages"}},
    "layer": [
     {"data": {"name": "vio"}, "transform": [{"filter": "datum.p === 'B' && datum.g === 'USA'"}], "mark": {"type": "trail", "color": "#3d3d3d"},
      "encoding": {"y": {"field": "v", "type": "quantitative", "scale": {"domain": [0.2025, 2.2123], "nice": false, "zero": false}, "axis": null}, "detail": {"field": "s"}, "order": {"field": "v", "type": "quantitative"}, "size": {"field": "w", "type": "quantitative", "scale": {"domain": [0, 1], "range": [3, 24.9]}, "legend": null}}},
     {"data": {"name": "vio"}, "transform": [{"filter": "datum.p === 'B' && datum.g === 'USA'"}], "mark": {"type": "trail", "opacity": 1},
      "encoding": {"y": {"field": "v", "type": "quantitative", "scale": {"domain": [0.2025, 2.2123], "nice": false, "zero": false}, "axis": null}, "fill": {"field": "g", "type": "nominal", "scale": {"domain": ["USA","Japan","China"], "range": ["#3274a1","#e1812c","#3a923a"]}}, "detail": {"field": "s"}, "order": {"field": "v", "type": "quantitative"}, "size": {"field": "w", "type": "quantitative", "scale": {"domain": [0, 1], "range": [0, 21.9]}, "legend": null}}},
     {"data": {"name": "box"}, "transform": [{"filter": "datum.p === 'B' && datum.g === 'USA'"}], "mark": {"type": "rule", "color": "#3d3d3d", "strokeWidth": 1.6}, "encoding": {"y": {"field": "lo", "type": "quantitative", "axis": null}, "y2": {"field": "hi"}}},
     {"data": {"name": "box"}, "transform": [{"filter": "datum.p === 'B' && datum.g === 'USA'"}], "mark": {"type": "rule", "color": "#3d3d3d", "strokeWidth": 6, "strokeCap": "butt"}, "encoding": {"y": {"field": "q1", "type": "quantitative", "axis": null}, "y2": {"field": "q3"}}},
     {"data": {"name": "box"}, "transform": [{"filter": "datum.p === 'B' && datum.g === 'USA'"}], "mark": {"type": "point", "filled": true, "color": "white", "opacity": 1, "size": 14, "strokeWidth": 0}, "encoding": {"y": {"field": "med", "type": "quantitative", "axis": null}}}
    ],
    "resolve": {"scale": {"size": "independent"}}},
   {"encoding": {"x": {"field": "s", "type": "nominal", "bandPosition": 0.5, "scale": {"type": "band", "domain": ["Normal","AAH","AIS","MIA","ADC"], "paddingInner": 0.2, "paddingOuter": 0.1}, "title": "Stages"}},
    "layer": [
     {"data": {"name": "vio"}, "transform": [{"filter": "datum.p === 'B' && datum.g === 'Japan'"}], "mark": {"type": "trail", "color": "#3d3d3d"},
      "encoding": {"y": {"field": "v", "type": "quantitative", "scale": {"domain": [0.2025, 2.2123], "nice": false, "zero": false}, "axis": null}, "detail": {"field": "s"}, "order": {"field": "v", "type": "quantitative"}, "size": {"field": "w", "type": "quantitative", "scale": {"domain": [0, 1], "range": [3, 24.9]}, "legend": null}}},
     {"data": {"name": "vio"}, "transform": [{"filter": "datum.p === 'B' && datum.g === 'Japan'"}], "mark": {"type": "trail", "opacity": 1},
      "encoding": {"y": {"field": "v", "type": "quantitative", "scale": {"domain": [0.2025, 2.2123], "nice": false, "zero": false}, "axis": null}, "fill": {"field": "g", "type": "nominal", "scale": {"domain": ["USA","Japan","China"], "range": ["#3274a1","#e1812c","#3a923a"]}}, "detail": {"field": "s"}, "order": {"field": "v", "type": "quantitative"}, "size": {"field": "w", "type": "quantitative", "scale": {"domain": [0, 1], "range": [0, 21.9]}, "legend": null}}},
     {"data": {"name": "box"}, "transform": [{"filter": "datum.p === 'B' && datum.g === 'Japan'"}], "mark": {"type": "rule", "color": "#3d3d3d", "strokeWidth": 1.6}, "encoding": {"y": {"field": "lo", "type": "quantitative", "axis": null}, "y2": {"field": "hi"}}},
     {"data": {"name": "box"}, "transform": [{"filter": "datum.p === 'B' && datum.g === 'Japan'"}], "mark": {"type": "rule", "color": "#3d3d3d", "strokeWidth": 6, "strokeCap": "butt"}, "encoding": {"y": {"field": "q1", "type": "quantitative", "axis": null}, "y2": {"field": "q3"}}},
     {"data": {"name": "box"}, "transform": [{"filter": "datum.p === 'B' && datum.g === 'Japan'"}], "mark": {"type": "point", "filled": true, "color": "white", "opacity": 1, "size": 14, "strokeWidth": 0}, "encoding": {"y": {"field": "med", "type": "quantitative", "axis": null}}}
    ],
    "resolve": {"scale": {"size": "independent"}}},
   {"encoding": {"x": {"field": "s", "type": "nominal", "bandPosition": 0.83333, "scale": {"type": "band", "domain": ["Normal","AAH","AIS","MIA","ADC"], "paddingInner": 0.2, "paddingOuter": 0.1}, "title": "Stages"}},
    "layer": [
     {"data": {"name": "vio"}, "transform": [{"filter": "datum.p === 'B' && datum.g === 'China'"}], "mark": {"type": "trail", "color": "#3d3d3d"},
      "encoding": {"y": {"field": "v", "type": "quantitative", "scale": {"domain": [0.2025, 2.2123], "nice": false, "zero": false}, "axis": null}, "detail": {"field": "s"}, "order": {"field": "v", "type": "quantitative"}, "size": {"field": "w", "type": "quantitative", "scale": {"domain": [0, 1], "range": [3, 24.9]}, "legend": null}}},
     {"data": {"name": "vio"}, "transform": [{"filter": "datum.p === 'B' && datum.g === 'China'"}], "mark": {"type": "trail", "opacity": 1},
      "encoding": {"y": {"field": "v", "type": "quantitative", "scale": {"domain": [0.2025, 2.2123], "nice": false, "zero": false}, "axis": null}, "fill": {"field": "g", "type": "nominal", "scale": {"domain": ["USA","Japan","China"], "range": ["#3274a1","#e1812c","#3a923a"]}}, "detail": {"field": "s"}, "order": {"field": "v", "type": "quantitative"}, "size": {"field": "w", "type": "quantitative", "scale": {"domain": [0, 1], "range": [0, 21.9]}, "legend": null}}},
     {"data": {"name": "box"}, "transform": [{"filter": "datum.p === 'B' && datum.g === 'China'"}], "mark": {"type": "rule", "color": "#3d3d3d", "strokeWidth": 1.6}, "encoding": {"y": {"field": "lo", "type": "quantitative", "axis": null}, "y2": {"field": "hi"}}},
     {"data": {"name": "box"}, "transform": [{"filter": "datum.p === 'B' && datum.g === 'China'"}], "mark": {"type": "rule", "color": "#3d3d3d", "strokeWidth": 6, "strokeCap": "butt"}, "encoding": {"y": {"field": "q1", "type": "quantitative", "axis": null}, "y2": {"field": "q3"}}},
     {"data": {"name": "box"}, "transform": [{"filter": "datum.p === 'B' && datum.g === 'China'"}], "mark": {"type": "point", "filled": true, "color": "white", "opacity": 1, "size": 14, "strokeWidth": 0}, "encoding": {"y": {"field": "med", "type": "quantitative", "axis": null}}}
    ],
    "resolve": {"scale": {"size": "independent"}}}
  ],
  "resolve": {"scale": {"size": "independent"}}
 },
 {
  "hconcat": [
  {
   "width": 482, "height": 407,
   "layer": [
    {"encoding": {"x": {"field": "s", "type": "nominal", "bandPosition": 0.25, "scale": {"type": "band", "domain": ["Normal","AAH","AIS","MIA","ADC"], "paddingInner": 0.2, "paddingOuter": 0.1}, "title": "Stages"}},
     "layer": [
      {"data": {"name": "vio"}, "transform": [{"filter": "datum.p === 'C' && datum.g === 'White'"}], "mark": {"type": "trail", "color": "#3d3d3d"},
       "encoding": {"y": {"field": "v", "type": "quantitative", "scale": {"domain": [0.2025, 2.2123], "nice": false, "zero": false}, "axis": null}, "detail": {"field": "s"}, "order": {"field": "v", "type": "quantitative"}, "size": {"field": "w", "type": "quantitative", "scale": {"domain": [0, 1], "range": [3, 38.6]}, "legend": null}}},
      {"data": {"name": "vio"}, "transform": [{"filter": "datum.p === 'C' && datum.g === 'White'"}], "mark": {"type": "trail", "opacity": 1},
       "encoding": {"y": {"field": "v", "type": "quantitative", "scale": {"domain": [0.2025, 2.2123], "nice": false, "zero": false}, "axis": null}, "fill": {"field": "g", "type": "nominal", "scale": {"domain": ["White","Asian"], "range": ["#3274a1","#e1812c"]}}, "detail": {"field": "s"}, "order": {"field": "v", "type": "quantitative"}, "size": {"field": "w", "type": "quantitative", "scale": {"domain": [0, 1], "range": [0, 35.6]}, "legend": null}}},
      {"data": {"name": "box"}, "transform": [{"filter": "datum.p === 'C' && datum.g === 'White'"}], "mark": {"type": "rule", "color": "#3d3d3d", "strokeWidth": 1.6}, "encoding": {"y": {"field": "lo", "type": "quantitative", "axis": null}, "y2": {"field": "hi"}}},
      {"data": {"name": "box"}, "transform": [{"filter": "datum.p === 'C' && datum.g === 'White'"}], "mark": {"type": "rule", "color": "#3d3d3d", "strokeWidth": 6, "strokeCap": "butt"}, "encoding": {"y": {"field": "q1", "type": "quantitative", "axis": null}, "y2": {"field": "q3"}}},
      {"data": {"name": "box"}, "transform": [{"filter": "datum.p === 'C' && datum.g === 'White'"}], "mark": {"type": "point", "filled": true, "color": "white", "opacity": 1, "size": 14, "strokeWidth": 0}, "encoding": {"y": {"field": "med", "type": "quantitative", "axis": null}}}
     ],
     "resolve": {"scale": {"size": "independent"}}},
    {"encoding": {"x": {"field": "s", "type": "nominal", "bandPosition": 0.75, "scale": {"type": "band", "domain": ["Normal","AAH","AIS","MIA","ADC"], "paddingInner": 0.2, "paddingOuter": 0.1}, "title": "Stages"}},
     "layer": [
      {"data": {"name": "vio"}, "transform": [{"filter": "datum.p === 'C' && datum.g === 'Asian'"}], "mark": {"type": "trail", "color": "#3d3d3d"},
       "encoding": {"y": {"field": "v", "type": "quantitative", "scale": {"domain": [0.2025, 2.2123], "nice": false, "zero": false}, "axis": null}, "detail": {"field": "s"}, "order": {"field": "v", "type": "quantitative"}, "size": {"field": "w", "type": "quantitative", "scale": {"domain": [0, 1], "range": [3, 38.6]}, "legend": null}}},
      {"data": {"name": "vio"}, "transform": [{"filter": "datum.p === 'C' && datum.g === 'Asian'"}], "mark": {"type": "trail", "opacity": 1},
       "encoding": {"y": {"field": "v", "type": "quantitative", "scale": {"domain": [0.2025, 2.2123], "nice": false, "zero": false}, "axis": null}, "fill": {"field": "g", "type": "nominal", "scale": {"domain": ["White","Asian"], "range": ["#3274a1","#e1812c"]}}, "detail": {"field": "s"}, "order": {"field": "v", "type": "quantitative"}, "size": {"field": "w", "type": "quantitative", "scale": {"domain": [0, 1], "range": [0, 35.6]}, "legend": null}}},
      {"data": {"name": "box"}, "transform": [{"filter": "datum.p === 'C' && datum.g === 'Asian'"}], "mark": {"type": "rule", "color": "#3d3d3d", "strokeWidth": 1.6}, "encoding": {"y": {"field": "lo", "type": "quantitative", "axis": null}, "y2": {"field": "hi"}}},
      {"data": {"name": "box"}, "transform": [{"filter": "datum.p === 'C' && datum.g === 'Asian'"}], "mark": {"type": "rule", "color": "#3d3d3d", "strokeWidth": 6, "strokeCap": "butt"}, "encoding": {"y": {"field": "q1", "type": "quantitative", "axis": null}, "y2": {"field": "q3"}}},
      {"data": {"name": "box"}, "transform": [{"filter": "datum.p === 'C' && datum.g === 'Asian'"}], "mark": {"type": "point", "filled": true, "color": "white", "opacity": 1, "size": 14, "strokeWidth": 0}, "encoding": {"y": {"field": "med", "type": "quantitative", "axis": null}}}
     ],
     "resolve": {"scale": {"size": "independent"}}}
   ],
   "resolve": {"scale": {"size": "independent"}}
  },
  {
   "width": 484, "height": 407,
   "layer": [
    {"encoding": {"x": {"field": "s", "type": "nominal", "bandPosition": 0.25, "scale": {"type": "band", "domain": ["Normal","AAH","AIS","MIA","ADC"], "paddingInner": 0.2, "paddingOuter": 0.1}, "title": "Stages"}},
     "layer": [
      {"data": {"name": "vio"}, "transform": [{"filter": "datum.p === 'D' && datum.g === 'Current/Former'"}], "mark": {"type": "trail", "color": "#3d3d3d"},
       "encoding": {"y": {"field": "v", "type": "quantitative", "scale": {"domain": [0.2025, 2.2123], "nice": false, "zero": false}, "axis": null}, "detail": {"field": "s"}, "order": {"field": "v", "type": "quantitative"}, "size": {"field": "w", "type": "quantitative", "scale": {"domain": [0, 1], "range": [3, 38.7]}, "legend": null}}},
      {"data": {"name": "vio"}, "transform": [{"filter": "datum.p === 'D' && datum.g === 'Current/Former'"}], "mark": {"type": "trail", "opacity": 1},
       "encoding": {"y": {"field": "v", "type": "quantitative", "scale": {"domain": [0.2025, 2.2123], "nice": false, "zero": false}, "axis": null}, "fill": {"field": "g", "type": "nominal", "scale": {"domain": ["Current/Former","Never"], "range": ["#3274a1","#e1812c"]}}, "detail": {"field": "s"}, "order": {"field": "v", "type": "quantitative"}, "size": {"field": "w", "type": "quantitative", "scale": {"domain": [0, 1], "range": [0, 35.7]}, "legend": null}}},
      {"data": {"name": "box"}, "transform": [{"filter": "datum.p === 'D' && datum.g === 'Current/Former'"}], "mark": {"type": "rule", "color": "#3d3d3d", "strokeWidth": 1.6}, "encoding": {"y": {"field": "lo", "type": "quantitative", "axis": null}, "y2": {"field": "hi"}}},
      {"data": {"name": "box"}, "transform": [{"filter": "datum.p === 'D' && datum.g === 'Current/Former'"}], "mark": {"type": "rule", "color": "#3d3d3d", "strokeWidth": 6, "strokeCap": "butt"}, "encoding": {"y": {"field": "q1", "type": "quantitative", "axis": null}, "y2": {"field": "q3"}}},
      {"data": {"name": "box"}, "transform": [{"filter": "datum.p === 'D' && datum.g === 'Current/Former'"}], "mark": {"type": "point", "filled": true, "color": "white", "opacity": 1, "size": 14, "strokeWidth": 0}, "encoding": {"y": {"field": "med", "type": "quantitative", "axis": null}}}
     ],
     "resolve": {"scale": {"size": "independent"}}},
    {"encoding": {"x": {"field": "s", "type": "nominal", "bandPosition": 0.75, "scale": {"type": "band", "domain": ["Normal","AAH","AIS","MIA","ADC"], "paddingInner": 0.2, "paddingOuter": 0.1}, "title": "Stages"}},
     "layer": [
      {"data": {"name": "vio"}, "transform": [{"filter": "datum.p === 'D' && datum.g === 'Never'"}], "mark": {"type": "trail", "color": "#3d3d3d"},
       "encoding": {"y": {"field": "v", "type": "quantitative", "scale": {"domain": [0.2025, 2.2123], "nice": false, "zero": false}, "axis": null}, "detail": {"field": "s"}, "order": {"field": "v", "type": "quantitative"}, "size": {"field": "w", "type": "quantitative", "scale": {"domain": [0, 1], "range": [3, 38.7]}, "legend": null}}},
      {"data": {"name": "vio"}, "transform": [{"filter": "datum.p === 'D' && datum.g === 'Never'"}], "mark": {"type": "trail", "opacity": 1},
       "encoding": {"y": {"field": "v", "type": "quantitative", "scale": {"domain": [0.2025, 2.2123], "nice": false, "zero": false}, "axis": null}, "fill": {"field": "g", "type": "nominal", "scale": {"domain": ["Current/Former","Never"], "range": ["#3274a1","#e1812c"]}}, "detail": {"field": "s"}, "order": {"field": "v", "type": "quantitative"}, "size": {"field": "w", "type": "quantitative", "scale": {"domain": [0, 1], "range": [0, 35.7]}, "legend": null}}},
      {"data": {"name": "box"}, "transform": [{"filter": "datum.p === 'D' && datum.g === 'Never'"}], "mark": {"type": "rule", "color": "#3d3d3d", "strokeWidth": 1.6}, "encoding": {"y": {"field": "lo", "type": "quantitative", "axis": null}, "y2": {"field": "hi"}}},
      {"data": {"name": "box"}, "transform": [{"filter": "datum.p === 'D' && datum.g === 'Never'"}], "mark": {"type": "rule", "color": "#3d3d3d", "strokeWidth": 6, "strokeCap": "butt"}, "encoding": {"y": {"field": "q1", "type": "quantitative", "axis": null}, "y2": {"field": "q3"}}},
      {"data": {"name": "box"}, "transform": [{"filter": "datum.p === 'D' && datum.g === 'Never'"}], "mark": {"type": "point", "filled": true, "color": "white", "opacity": 1, "size": 14, "strokeWidth": 0}, "encoding": {"y": {"field": "med", "type": "quantitative", "axis": null}}}
     ],
     "resolve": {"scale": {"size": "independent"}}}
   ],
   "resolve": {"scale": {"size": "independent"}}
  }
  ],
  "spacing": 15,
  "resolve": {"scale": {"fill": "independent", "size": "independent", "x": "independent", "y": "independent"}}
 }
 ],
 "spacing": 32,
 "resolve": {"scale": {"fill": "independent", "size": "independent", "x": "independent", "y": "independent"}}
}
],
"spacing": 51,
"resolve": {"scale": {"fill": "independent", "size": "independent", "x": "independent", "y": "independent"}}
}
